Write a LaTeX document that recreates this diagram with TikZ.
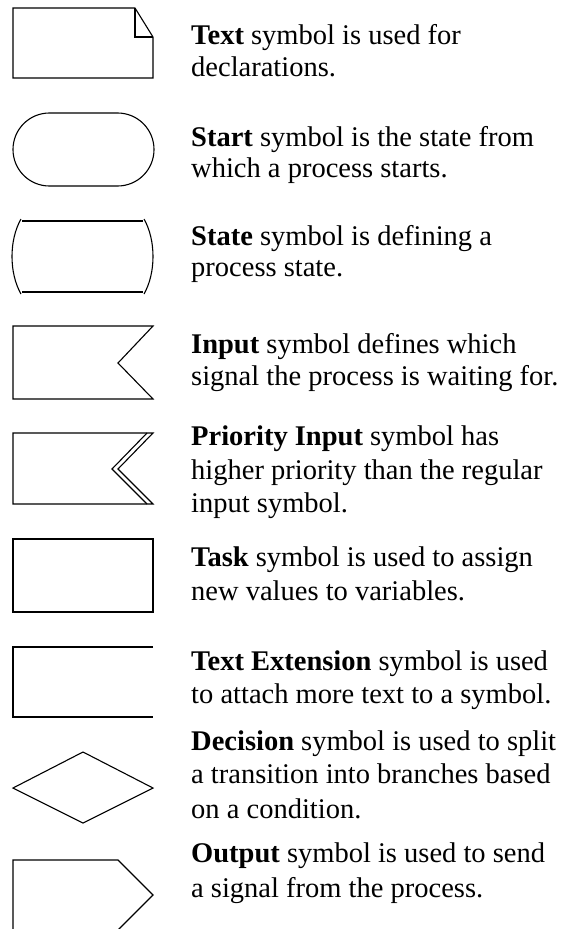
\documentclass[tikz,border=0pt]{standalone}
\usepackage{fontspec}
\setmainfont{Liberation Serif}
\begin{document}
\begin{tikzpicture}[x=1pt,y=-1pt,
  sym/.style={draw=black,line width=1.1pt,line join=miter},
  desc/.style={anchor=base west,inner sep=0pt,font=\fontsize{28.5}{32}\selectfont}]
\useasboundingbox (0,0) rectangle (576,929);
\clip (0,0) rectangle (576,929);
% Text symbol
\draw[sym] (13,8) -- (135,8) -- (153,37) -- (153,78) -- (13,78) -- cycle;
\draw[sym] (135,8) -- (135,37) -- (153,37);
% Start symbol
\draw[sym,rounded corners=36.4] (13,113) rectangle (154,186);
% State symbol
\draw[sym] (22,221) -- (143,221);
\draw[sym] (22,292) -- (143,292);
\draw[sym] (21,219) .. controls (9,240) and (9,273) .. (21,294);
\draw[sym] (144,219) .. controls (156,240) and (156,273) .. (144,294);
% Input symbol
\draw[sym] (13,326) -- (153,326) -- (118,363) -- (153,399) -- (13,399) -- cycle;
% Priority input symbol
\draw[sym] (13,433) -- (153,433) -- (118,469) -- (153,504) -- (13,504) -- cycle;
\draw[sym] (147,433) -- (112,469) -- (147,504);
% Task symbol
\draw[sym] (13,539) rectangle (153,612);
% Text extension symbol
\draw[sym] (153,647) -- (13,647) -- (13,717) -- (153,717);
% Decision symbol
\draw[sym] (83,752) -- (153,788) -- (83,823) -- (13,788) -- cycle;
% Output symbol
\draw[sym] (13,860) -- (118,860) -- (153,895) -- (118,930) -- (13,930) -- cycle;
% Descriptions
\node[desc] (t1a) at (191,44) {\textbf{Text} symbol is used for};
\node[desc] (t1b) at (191,76) {declarations.};
\node[desc] (t2a) at (191,146) {\textbf{Start} symbol is the state from};
\node[desc] (t2b) at (191,177) {which a process starts.};
\node[desc] (t3a) at (191,245) {\textbf{State} symbol is defining a};
\node[desc] (t3b) at (191,276) {process state.};
\node[desc] (t4a) at (191,353) {\textbf{Input} symbol defines which};
\node[desc] (t4b) at (191,385) {signal the process is waiting for.};
\node[desc] (t5a) at (191,445) {\textbf{Priority Input} symbol has};
\node[desc] (t5b) at (191,479) {higher priority than the regular};
\node[desc] (t5c) at (191,512) {input symbol.};
\node[desc] (t6a) at (191,566) {\textbf{Task} symbol is used to assign};
\node[desc] (t6b) at (191,600) {new values to variables.};
\node[desc] (t7a) at (191,670) {\textbf{Text Extension} symbol is used};
\node[desc] (t7b) at (191,703) {to attach more text to a symbol.};
\node[desc] (t8a) at (191,750) {\textbf{Decision} symbol is used to split};
\node[desc] (t8b) at (191,783) {a transition into branches based};
\node[desc] (t8c) at (191,818) {on a condition.};
\node[desc] (t9a) at (191,862) {\textbf{Output} symbol is used to send};
\node[desc] (t9b) at (191,897) {a signal from the process.};
\end{tikzpicture}
\end{document}
